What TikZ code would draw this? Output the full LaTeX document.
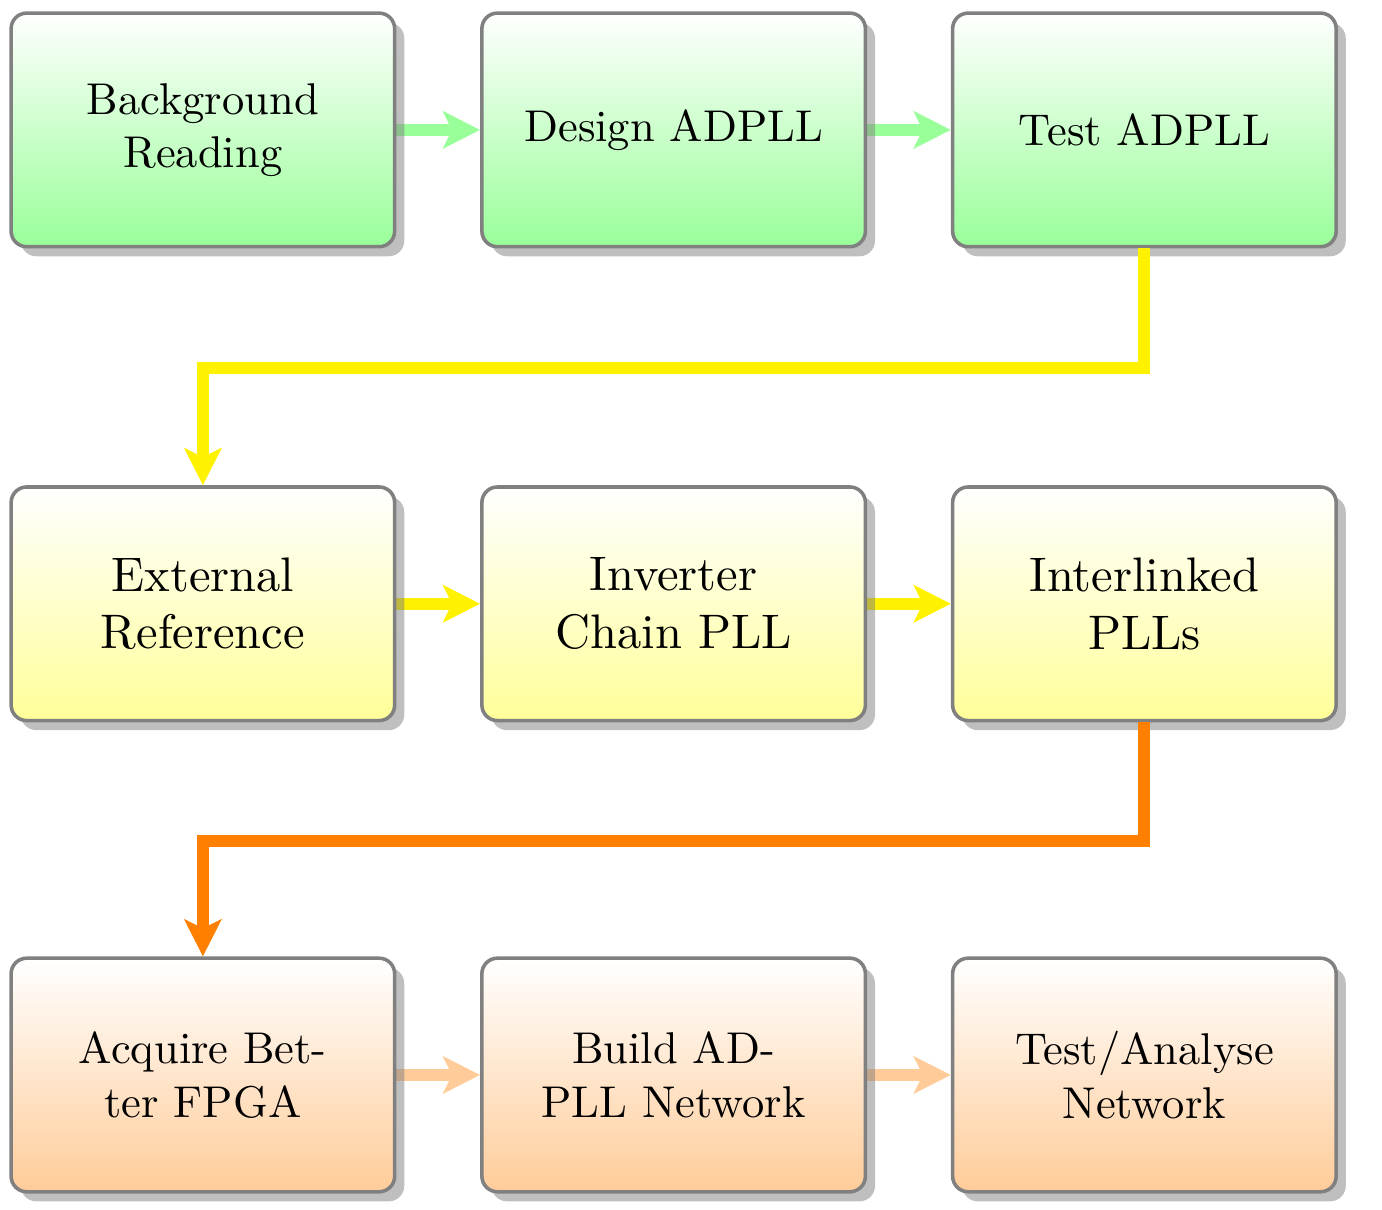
\documentclass[tikz,border=0pt]{standalone}
\usetikzlibrary{positioning,shadows,arrows.meta,backgrounds}

\tikzset{
    task/.style={rectangle, rounded corners=3.5pt, draw=gray, thick,
        drop shadow, top color=white, align=center,
        minimum width=86.2pt, minimum height=52.5pt},
    taskA/.style={task, bottom color=green!40},
    taskB/.style={task, bottom color=yellow!40,
        font=\fontsize{10.9pt}{13pt}\selectfont},
    taskC/.style={task, bottom color=orange!40},
    link/.style={line width=2.7pt,
        -{Stealth[length=8.3pt,width=8.3pt,inset=2pt]}}
}

\begin{document}
\begin{tikzpicture}
                            \useasboundingbox (-45.6pt,29.2pt) rectangle (265pt,-242.7pt);

                            % First row
                            \node[taskA] (bg) at (0,0) {Background\\Reading};
                            \node[taskA, right=18.8pt of bg] (des) {Design ADPLL};
                            \node[taskA, right=18.8pt of des] (tst) {Test ADPLL};

                            % Second row
                            \node[taskB, below=53.2pt of bg] (ext) {External\\Reference};
                            \node[taskB, right=18.8pt of ext] (inv) {Inverter\\Chain PLL};
                            \node[taskB, right=18.8pt of inv] (ilk) {Interlinked\\PLLs};

                            % Third row
                            \node[taskC, below=52.6pt of ext] (acq) {Acquire Bet-\\ter FPGA};
                            \node[taskC, right=18.8pt of acq] (net) {Build AD-\\PLL Network};
                            \node[taskC, right=18.8pt of net] (ana) {Test/Analyse\\Network};

                            % Links inside a row
                            \begin{scope}[on background layer]
                                \draw[link, green!40] (bg.east) -- (des.west);
                                \draw[link, green!40] (des.east) -- (tst.west);
                                \draw[link, yellow] (ext.east) -- (inv.west);
                                \draw[link, yellow] (inv.east) -- (ilk.west);
                                \draw[link, orange!40] (acq.east) -- (net.west);
                                \draw[link, orange!40] (net.east) -- (ana.west);
                            \end{scope}

                            % Links between rows
                            \draw[link, yellow] (tst.south) -- ++(0,-26.8pt) -| (ext.north);
                            \draw[link, orange] (ilk.south) -- ++(0,-26.6pt) -| (acq.north);
\end{tikzpicture}
\end{document}
